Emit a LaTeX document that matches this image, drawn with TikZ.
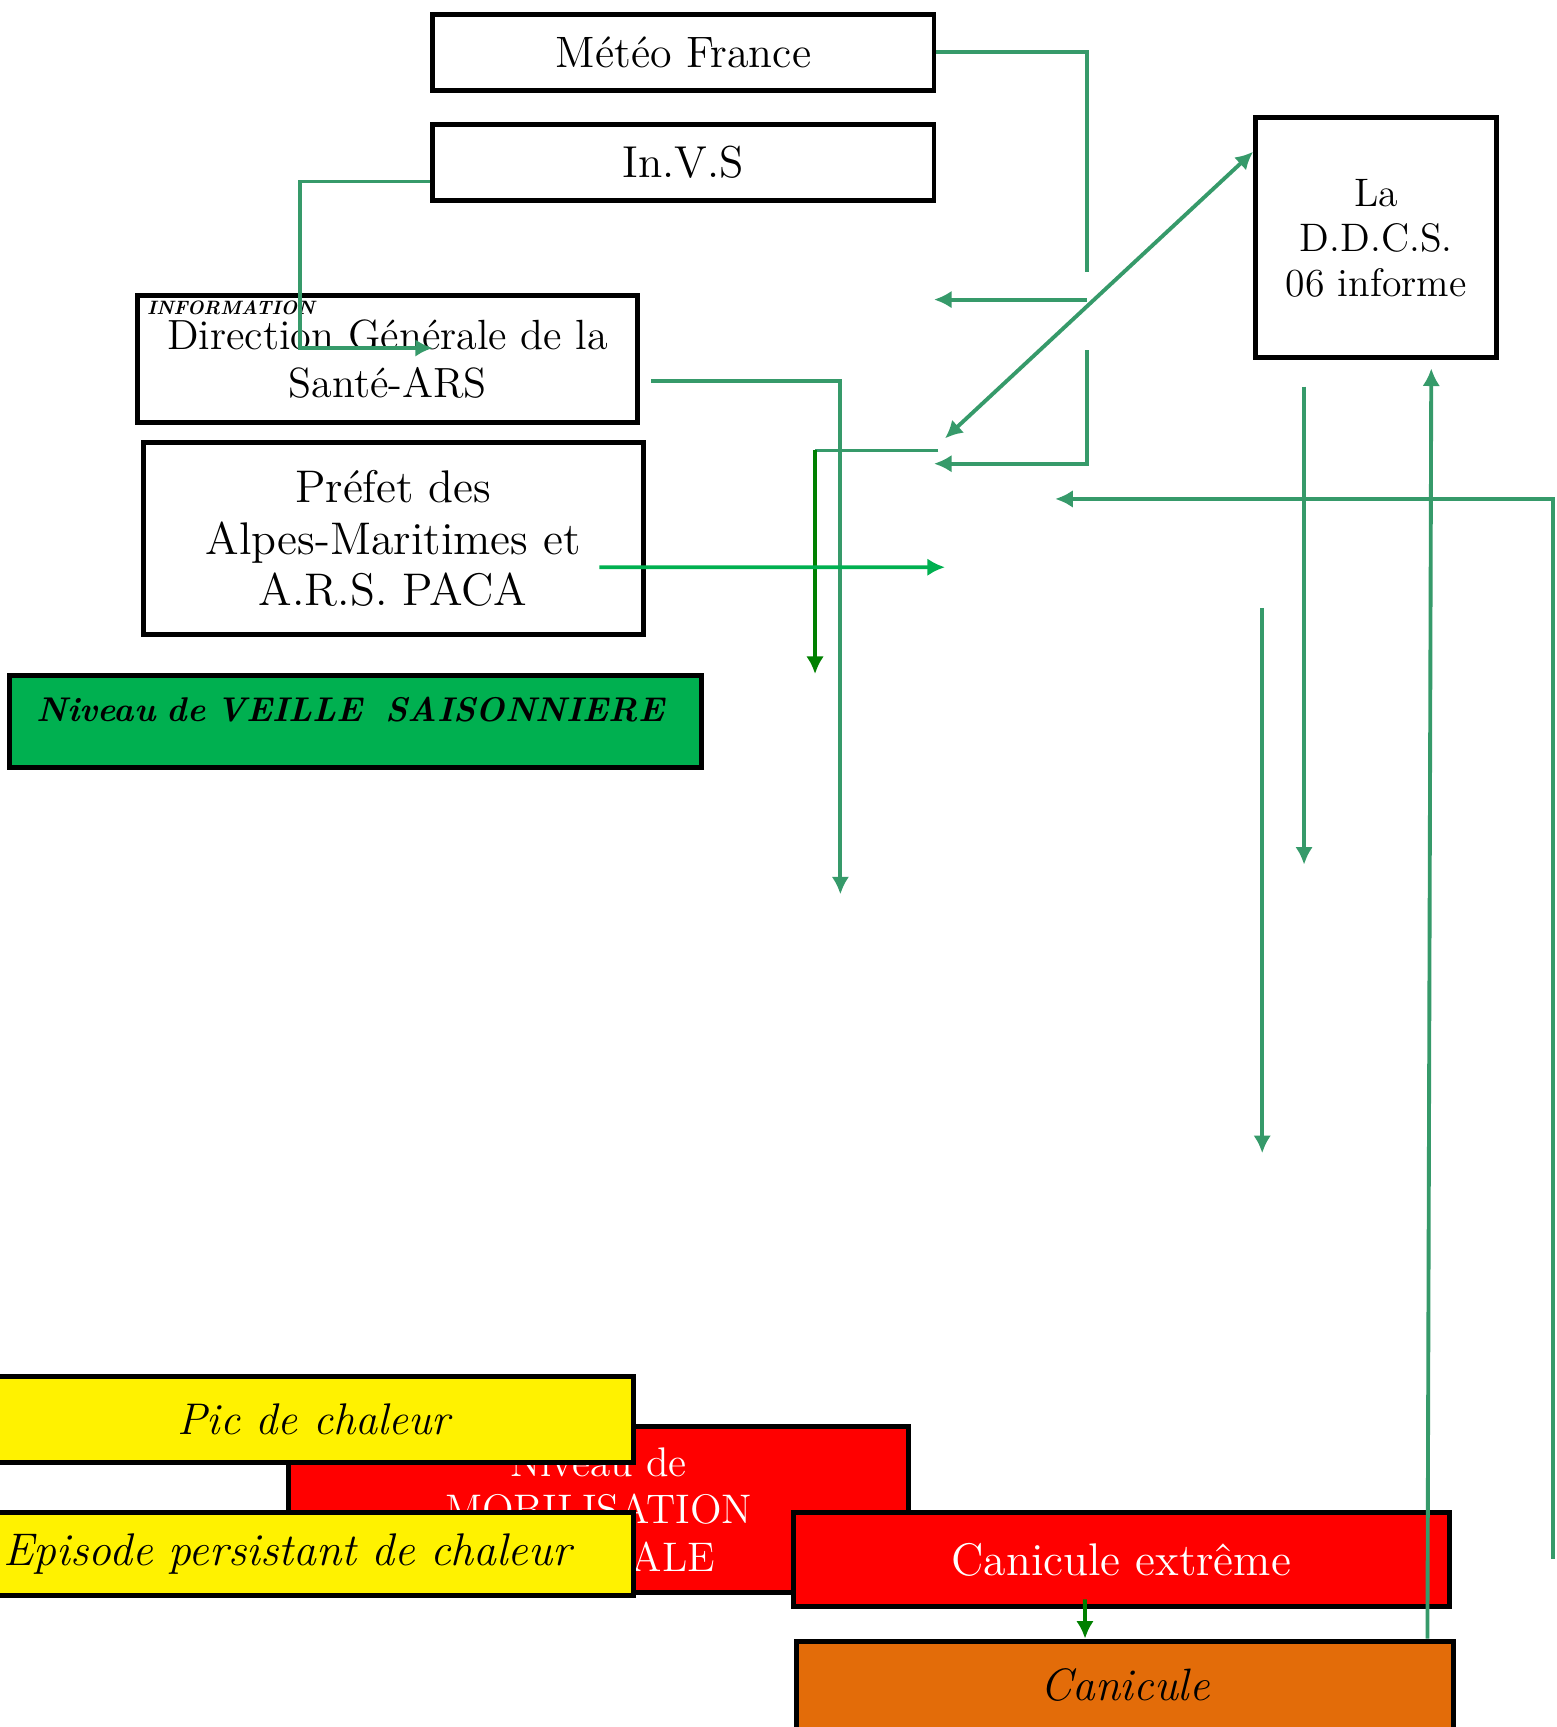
\documentclass[tikz,border=0pt]{standalone}
\usetikzlibrary{shapes,arrows,arrows.meta}
\definecolor{flowgreen}{RGB}{54,154,106}
\definecolor{brightgreen}{RGB}{0,176,80}
\definecolor{deepgreen}{RGB}{0,128,0}
\definecolor{veillegreen}{RGB}{0,176,80}
\definecolor{canorange}{RGB}{227,108,9}
\tikzset{%
	block/.style    = {draw, line width = 1.4pt, rectangle, inner sep = 0pt,
		align = center},
	level/.style    = {block, fill = #1}, % coloured level
	flow/.style     = {draw = flowgreen, line width = 1.1pt}, % link
	darkflow/.style = {draw = deepgreen, line width = 1.1pt},
	brightflow/.style = {draw = brightgreen, line width = 1.1pt}
}

\begin{document}
\begin{tikzpicture}[x=0.011cm, y=-0.011cm, >={Latex[length=5pt,width=5pt]}]
                \useasboundingbox (0,0) rectangle (1413,1568);

                \node[block, minimum width=5.005cm, minimum height=0.759cm,
                      font=\fontsize{12.5}{15}\selectfont] (meteo) at (620.5,47.5) {Météo France};
                \node[block, minimum width=5.005cm, minimum height=0.759cm,
                      font=\fontsize{12.7}{15}\selectfont] (invs) at (620.5,147.5) {In.V.S};
                \node[block, minimum width=4.994cm, minimum height=1.276cm,
                      font=\fontsize{12}{13.5}\selectfont] (dgs) at (352,326) {Direction Générale de la\\Santé-ARS};
                \node[anchor=west, inner sep=0pt,
                      font=\fontsize{5.5}{7}\selectfont\bfseries\itshape] (info) at (133,279) {INFORMATION};
                \node[block, minimum width=4.994cm, minimum height=1.914cm,
                      font=\fontsize{13}{14.7}\selectfont] (prefet) at (357,489) {Préfet des\\Alpes-Maritimes et\\A.R.S. PACA};
                \node[level=veillegreen, minimum height=0.924cm, text width=6.38cm, inner xsep=0.264cm, align=left,
                      text depth=0.25cm, font=\fontsize{9.75}{14}\selectfont\bfseries\itshape] (veille) at (323,655)
                      {\mbox{Niveau de VEILLE~~SAISONNIERE}};
                \node[block, minimum width=2.409cm, minimum height=2.398cm,
                      font=\fontsize{11.3}{12.8}\selectfont] (ddcs) at (1249.5,216) {La\\D.D.C.S.\\06 informe};

                \node[level=red, text=white, minimum width=6.193cm, minimum height=1.661cm,
                      font=\fontsize{11.75}{13.5}\selectfont] (mobil) at (543.5,1370.5) {Niveau de\\MOBILISATION\\MAXIMALE};
                \node[level=yellow, minimum width=6.38cm, minimum height=0.858cm,
                      font=\fontsize{12.6}{15}\selectfont\itshape] (pic) at (285,1289) {Pic de chaleur};
                \node[level=yellow, minimum height=0.836cm, text width=6.2cm, inner xsep=0.09cm, align=left,
                      font=\fontsize{13}{15}\selectfont\itshape] (episode) at (285,1411) {Episode persistant de chaleur};
                \node[level=red, text=white, minimum width=6.556cm, minimum height=0.946cm,
                      font=\fontsize{13}{15}\selectfont] (extreme) at (1018,1416) {Canicule extrême};
                \node[level=canorange, minimum width=6.567cm, minimum height=0.88cm,
                      font=\fontsize{12.9}{15}\selectfont\itshape] (canicule) at (1021.5,1530) {Canicule};

                \coordinate (meteoEnd) at (987,247);
                \coordinate (midA) at (987,272);
                \coordinate (midB) at (848,272);
                \coordinate (midC) at (987,318);
                \coordinate (midD) at (848,421);
                \coordinate (midE) at (858,398);
                \coordinate (invsA) at (272,316);
                \coordinate (invsB) at (393,316);
                \coordinate (dgsEnd) at (763,812);
                \coordinate (vA) at (852,409);
                \coordinate (vB) at (740,409);
                \coordinate (vC) at (740,612);
                \coordinate (prefetEnd) at (858,515);
                \coordinate (backA) at (1410,1415);
                \coordinate (backB) at (958,453);
                \coordinate (ddcsA) at (1184,351);
                \coordinate (ddcsB) at (1184,785);
                \coordinate (ddcsC) at (1146,552);
                \coordinate (ddcsD) at (1146,1047);

                \draw[flow] (meteo.east) -| (meteoEnd);
                \draw[flow,->] (midA) -- (midB);
                \draw[flow,->] (midC) |- (midD);
                \draw[flow,<->] (midE) -- (ddcs.145);
                \draw[flow,->] ([yshift=-0.19cm]invs.west) -| (invsA) -- (invsB);
                \draw[flow,->] ([xshift=0.11cm,yshift=-0.22cm]dgs.east) -| (dgsEnd);
                \draw[flow] (vA) -- (vB);
                \draw[darkflow,->] (vB) -- (vC);
                \draw[brightflow,->] ([xshift=-0.462cm,yshift=-0.286cm]prefet.east) -- (prefetEnd);
                \draw[flow,->] (backA) |- (backB);
                \draw[flow,->] (ddcsA) -- (ddcsB);
                \draw[flow,->] (ddcsC) -- (ddcsD);
                \draw[flow,->] ([xshift=3.02cm]canicule.north) -- ([xshift=0.55cm,yshift=-0.08cm]ddcs.south);
                \draw[darkflow,->] ([xshift=-0.363cm,yshift=0.1cm]extreme.south) -- ([xshift=-0.4cm]canicule.north);
            \end{tikzpicture}
\end{document}
